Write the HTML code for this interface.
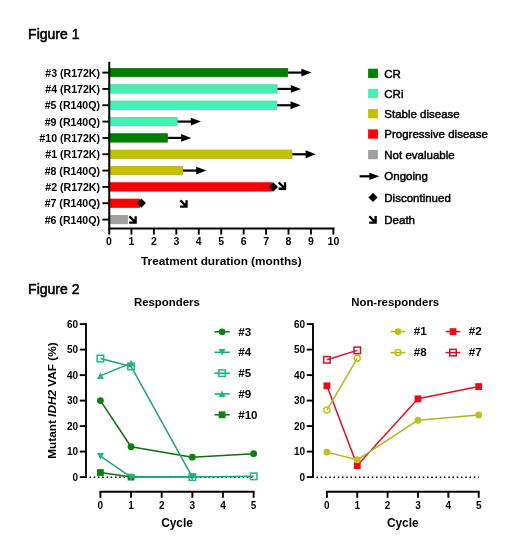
<!DOCTYPE html>
<html><head><meta charset="utf-8"><title>Figures</title>
<style>
html,body{margin:0;padding:0;background:#fff;}
body{width:520px;height:560px;overflow:hidden;font-family:"Liberation Sans",sans-serif;}
svg{display:block;will-change:transform;}
text{font-family:"Liberation Sans",sans-serif;fill:#000;}
</style></head><body>
<svg width="520" height="560" viewBox="0 0 520 560">
<rect width="520" height="560" fill="#fff"/>
<text x="28.1" y="38.7" font-size="14" font-family="Liberation Sans, sans-serif" fill="#000" stroke="#000" stroke-width="0.55">Figure 1</text>
<text x="100" y="76.8" font-size="10.6" font-weight="bold" text-anchor="end" font-family="Liberation Sans, sans-serif">#3 (R172K)</text>
<line x1="102.4" y1="72.6" x2="109" y2="72.6" stroke="#000" stroke-width="1.9"/>
<rect x="109" y="68.4" width="178.75" height="8.4" fill="#008000" stroke="#006A00" stroke-width="0.7"/>
<line x1="288.1" y1="72.6" x2="302.4" y2="72.6" stroke="#000" stroke-width="2.2"/><path d="M301.4 68.7L311.6 72.6L301.4 76.5Z" fill="#000"/>
<text x="100" y="93.13" font-size="10.6" font-weight="bold" text-anchor="end" font-family="Liberation Sans, sans-serif">#4 (R172K)</text>
<line x1="102.4" y1="88.93" x2="109" y2="88.93" stroke="#000" stroke-width="1.9"/>
<rect x="109" y="84.73" width="168.15" height="8.4" fill="#46F0B2" stroke="#38D89E" stroke-width="0.7"/>
<line x1="277.5" y1="88.93" x2="291.8" y2="88.93" stroke="#000" stroke-width="2.2"/><path d="M290.8 85.03L301 88.93L290.8 92.83Z" fill="#000"/>
<text x="100" y="109.46" font-size="10.6" font-weight="bold" text-anchor="end" font-family="Liberation Sans, sans-serif">#5 (R140Q)</text>
<line x1="102.4" y1="105.26" x2="109" y2="105.26" stroke="#000" stroke-width="1.9"/>
<rect x="109" y="101.06" width="167.85" height="8.4" fill="#46F0B2" stroke="#38D89E" stroke-width="0.7"/>
<line x1="277.2" y1="105.26" x2="291.5" y2="105.26" stroke="#000" stroke-width="2.2"/><path d="M290.5 101.36L300.7 105.26L290.5 109.16Z" fill="#000"/>
<text x="100" y="125.79" font-size="10.6" font-weight="bold" text-anchor="end" font-family="Liberation Sans, sans-serif">#9 (R140Q)</text>
<line x1="102.4" y1="121.59" x2="109" y2="121.59" stroke="#000" stroke-width="1.9"/>
<rect x="109" y="117.39" width="68.15" height="8.4" fill="#46F0B2" stroke="#38D89E" stroke-width="0.7"/>
<line x1="177.5" y1="121.59" x2="191.8" y2="121.59" stroke="#000" stroke-width="2.2"/><path d="M190.8 117.69L201 121.59L190.8 125.49Z" fill="#000"/>
<text x="100" y="142.12" font-size="10.6" font-weight="bold" text-anchor="end" font-family="Liberation Sans, sans-serif">#10 (R172K)</text>
<line x1="102.4" y1="137.92" x2="109" y2="137.92" stroke="#000" stroke-width="1.9"/>
<rect x="109" y="133.72" width="58.45" height="8.4" fill="#008000" stroke="#006A00" stroke-width="0.7"/>
<line x1="167.8" y1="137.92" x2="182.1" y2="137.92" stroke="#000" stroke-width="2.2"/><path d="M181.1 134.02L191.3 137.92L181.1 141.82Z" fill="#000"/>
<text x="100" y="158.45" font-size="10.6" font-weight="bold" text-anchor="end" font-family="Liberation Sans, sans-serif">#1 (R172K)</text>
<line x1="102.4" y1="154.25" x2="109" y2="154.25" stroke="#000" stroke-width="1.9"/>
<rect x="109" y="150.05" width="182.95" height="8.4" fill="#C4C000" stroke="#B0AC00" stroke-width="0.7"/>
<line x1="292.3" y1="154.25" x2="306.6" y2="154.25" stroke="#000" stroke-width="2.2"/><path d="M305.6 150.35L315.8 154.25L305.6 158.15Z" fill="#000"/>
<text x="100" y="174.78" font-size="10.6" font-weight="bold" text-anchor="end" font-family="Liberation Sans, sans-serif">#8 (R140Q)</text>
<line x1="102.4" y1="170.58" x2="109" y2="170.58" stroke="#000" stroke-width="1.9"/>
<rect x="109" y="166.38" width="73.55" height="8.4" fill="#C4C000" stroke="#B0AC00" stroke-width="0.7"/>
<line x1="182.9" y1="170.58" x2="197.2" y2="170.58" stroke="#000" stroke-width="2.2"/><path d="M196.2 166.68L206.4 170.58L196.2 174.48Z" fill="#000"/>
<text x="100" y="191.11" font-size="10.6" font-weight="bold" text-anchor="end" font-family="Liberation Sans, sans-serif">#2 (R172K)</text>
<line x1="102.4" y1="186.91" x2="109" y2="186.91" stroke="#000" stroke-width="1.9"/>
<rect x="109" y="182.71" width="163.65" height="8.4" fill="#FF0000" stroke="#E80000" stroke-width="0.7"/>
<path d="M268.8 186.9L273.4 182.3L278 186.9L273.4 191.5Z" fill="#000"/>
<path d="M279.55 183.25L284.45 188.15M285.05 183.45L285.05 188.75L279.75 188.75" fill="none" stroke="#000" stroke-width="2.3" stroke-linecap="square"/>
<text x="100" y="207.44" font-size="10.6" font-weight="bold" text-anchor="end" font-family="Liberation Sans, sans-serif">#7 (R140Q)</text>
<line x1="102.4" y1="203.24" x2="109" y2="203.24" stroke="#000" stroke-width="1.9"/>
<rect x="109" y="199.04" width="30.65" height="8.4" fill="#FF0000" stroke="#E80000" stroke-width="0.7"/>
<path d="M136.7 203.1L141.3 198.5L145.9 203.1L141.3 207.7Z" fill="#000"/>
<path d="M181.05 201.15L185.95 206.05M186.55 201.35L186.55 206.65L181.25 206.65" fill="none" stroke="#000" stroke-width="2.3" stroke-linecap="square"/>
<text x="100" y="223.77" font-size="10.6" font-weight="bold" text-anchor="end" font-family="Liberation Sans, sans-serif">#6 (R140Q)</text>
<line x1="102.4" y1="219.57" x2="109" y2="219.57" stroke="#000" stroke-width="1.9"/>
<rect x="109" y="215.37" width="18.55" height="8.4" fill="#A0A0A2" stroke="#959597" stroke-width="0.7"/>
<path d="M130.15 217.15L135.05 222.05M135.65 217.35L135.65 222.65L130.35 222.65" fill="none" stroke="#000" stroke-width="2.3" stroke-linecap="square"/>
<line x1="109.25" y1="61.8" x2="109.25" y2="234.6" stroke="#000" stroke-width="2"/>
<line x1="108.25" y1="228.5" x2="334.5" y2="228.5" stroke="#000" stroke-width="2.1"/>
<text x="109" y="245" font-size="10.5" font-weight="bold" text-anchor="middle" font-family="Liberation Sans, sans-serif">0</text>
<line x1="131.44" y1="228.5" x2="131.44" y2="234.6" stroke="#000" stroke-width="1.9"/>
<text x="131.44" y="245" font-size="10.5" font-weight="bold" text-anchor="middle" font-family="Liberation Sans, sans-serif">1</text>
<line x1="153.88" y1="228.5" x2="153.88" y2="234.6" stroke="#000" stroke-width="1.9"/>
<text x="153.88" y="245" font-size="10.5" font-weight="bold" text-anchor="middle" font-family="Liberation Sans, sans-serif">2</text>
<line x1="176.32" y1="228.5" x2="176.32" y2="234.6" stroke="#000" stroke-width="1.9"/>
<text x="176.32" y="245" font-size="10.5" font-weight="bold" text-anchor="middle" font-family="Liberation Sans, sans-serif">3</text>
<line x1="198.76" y1="228.5" x2="198.76" y2="234.6" stroke="#000" stroke-width="1.9"/>
<text x="198.76" y="245" font-size="10.5" font-weight="bold" text-anchor="middle" font-family="Liberation Sans, sans-serif">4</text>
<line x1="221.2" y1="228.5" x2="221.2" y2="234.6" stroke="#000" stroke-width="1.9"/>
<text x="221.2" y="245" font-size="10.5" font-weight="bold" text-anchor="middle" font-family="Liberation Sans, sans-serif">5</text>
<line x1="243.64" y1="228.5" x2="243.64" y2="234.6" stroke="#000" stroke-width="1.9"/>
<text x="243.64" y="245" font-size="10.5" font-weight="bold" text-anchor="middle" font-family="Liberation Sans, sans-serif">6</text>
<line x1="266.08" y1="228.5" x2="266.08" y2="234.6" stroke="#000" stroke-width="1.9"/>
<text x="266.08" y="245" font-size="10.5" font-weight="bold" text-anchor="middle" font-family="Liberation Sans, sans-serif">7</text>
<line x1="288.52" y1="228.5" x2="288.52" y2="234.6" stroke="#000" stroke-width="1.9"/>
<text x="288.52" y="245" font-size="10.5" font-weight="bold" text-anchor="middle" font-family="Liberation Sans, sans-serif">8</text>
<line x1="310.96" y1="228.5" x2="310.96" y2="234.6" stroke="#000" stroke-width="1.9"/>
<text x="310.96" y="245" font-size="10.5" font-weight="bold" text-anchor="middle" font-family="Liberation Sans, sans-serif">9</text>
<line x1="333.4" y1="228.5" x2="333.4" y2="234.6" stroke="#000" stroke-width="1.9"/>
<text x="333.4" y="245" font-size="10.5" font-weight="bold" text-anchor="middle" font-family="Liberation Sans, sans-serif">10</text>
<text x="221.3" y="265" font-size="11.8" font-weight="bold" text-anchor="middle" font-family="Liberation Sans, sans-serif">Treatment duration (months)</text>
<rect x="368.1" y="68.75" width="9.8" height="9.3" fill="#008000"/>
<text x="384.3" y="77.6" font-size="11.5" stroke="#000" stroke-width="0.45" font-family="Liberation Sans, sans-serif">CR</text>
<rect x="368.1" y="88.85" width="9.8" height="9.3" fill="#46F0B2"/>
<text x="384.3" y="97.7" font-size="11.5" stroke="#000" stroke-width="0.45" font-family="Liberation Sans, sans-serif">CRi</text>
<rect x="368.1" y="109.05" width="9.8" height="9.3" fill="#C4C000"/>
<text x="384.3" y="117.9" font-size="11.5" stroke="#000" stroke-width="0.45" font-family="Liberation Sans, sans-serif">Stable disease</text>
<rect x="368.1" y="129.35" width="9.8" height="9.3" fill="#FF0000"/>
<text x="384.3" y="138.2" font-size="11.5" stroke="#000" stroke-width="0.45" font-family="Liberation Sans, sans-serif">Progressive disease</text>
<rect x="368.1" y="149.95" width="9.8" height="9.3" fill="#A0A0A2"/>
<text x="384.3" y="158.8" font-size="11.5" stroke="#000" stroke-width="0.45" font-family="Liberation Sans, sans-serif">Not evaluable</text>
<line x1="359.6" y1="176.3" x2="370.4" y2="176.3" stroke="#000" stroke-width="2.2"/><path d="M369.4 172.7L379.4 176.3L369.4 179.9Z" fill="#000"/>
<text x="384.3" y="180" font-size="11.5" stroke="#000" stroke-width="0.45" font-family="Liberation Sans, sans-serif">Ongoing</text>
<path d="M368.4 197.4L373 192.8L377.6 197.4L373 202Z" fill="#000"/>
<text x="384.3" y="202.1" font-size="11.5" stroke="#000" stroke-width="0.45" font-family="Liberation Sans, sans-serif">Discontinued</text>
<path d="M370.15 217.05L375.05 221.95M375.65 217.25L375.65 222.55L370.35 222.55" fill="none" stroke="#000" stroke-width="2.3" stroke-linecap="square"/>
<text x="384.3" y="223.5" font-size="11.5" stroke="#000" stroke-width="0.45" font-family="Liberation Sans, sans-serif">Death</text>
<text x="28.1" y="293.5" font-size="14" font-family="Liberation Sans, sans-serif" fill="#000" stroke="#000" stroke-width="0.55">Figure 2</text>
<text x="166.9" y="306.4" font-size="11.4" font-weight="bold" text-anchor="middle" font-family="Liberation Sans, sans-serif">Responders</text>
<line x1="86" y1="323.15" x2="86" y2="478.05" stroke="#000" stroke-width="1.9"/>
<line x1="79.8" y1="477.1" x2="86" y2="477.1" stroke="#000" stroke-width="1.9"/>
<text x="78.1" y="480.5" font-size="10" font-weight="bold" text-anchor="end" font-family="Liberation Sans, sans-serif">0</text>
<line x1="79.8" y1="451.6" x2="86" y2="451.6" stroke="#000" stroke-width="1.9"/>
<text x="78.1" y="455" font-size="10" font-weight="bold" text-anchor="end" font-family="Liberation Sans, sans-serif">10</text>
<line x1="79.8" y1="426.1" x2="86" y2="426.1" stroke="#000" stroke-width="1.9"/>
<text x="78.1" y="429.5" font-size="10" font-weight="bold" text-anchor="end" font-family="Liberation Sans, sans-serif">20</text>
<line x1="79.8" y1="400.6" x2="86" y2="400.6" stroke="#000" stroke-width="1.9"/>
<text x="78.1" y="404" font-size="10" font-weight="bold" text-anchor="end" font-family="Liberation Sans, sans-serif">30</text>
<line x1="79.8" y1="375.1" x2="86" y2="375.1" stroke="#000" stroke-width="1.9"/>
<text x="78.1" y="378.5" font-size="10" font-weight="bold" text-anchor="end" font-family="Liberation Sans, sans-serif">40</text>
<line x1="79.8" y1="349.6" x2="86" y2="349.6" stroke="#000" stroke-width="1.9"/>
<text x="78.1" y="353" font-size="10" font-weight="bold" text-anchor="end" font-family="Liberation Sans, sans-serif">50</text>
<line x1="79.8" y1="324.1" x2="86" y2="324.1" stroke="#000" stroke-width="1.9"/>
<text x="78.1" y="327.5" font-size="10" font-weight="bold" text-anchor="end" font-family="Liberation Sans, sans-serif">60</text>
<line x1="89.5" y1="477.3" x2="253.65" y2="477.3" stroke="#000" stroke-width="1.4" stroke-dasharray="1.5 2.75"/>
<line x1="99.45" y1="491.8" x2="254.6" y2="491.8" stroke="#000" stroke-width="1.9"/>
<line x1="100.4" y1="491.8" x2="100.4" y2="497.8" stroke="#000" stroke-width="1.9"/>
<text x="100.4" y="509.3" font-size="10" font-weight="bold" text-anchor="middle" font-family="Liberation Sans, sans-serif">0</text>
<line x1="131.05" y1="491.8" x2="131.05" y2="497.8" stroke="#000" stroke-width="1.9"/>
<text x="131.05" y="509.3" font-size="10" font-weight="bold" text-anchor="middle" font-family="Liberation Sans, sans-serif">1</text>
<line x1="161.7" y1="491.8" x2="161.7" y2="497.8" stroke="#000" stroke-width="1.9"/>
<text x="161.7" y="509.3" font-size="10" font-weight="bold" text-anchor="middle" font-family="Liberation Sans, sans-serif">2</text>
<line x1="192.35" y1="491.8" x2="192.35" y2="497.8" stroke="#000" stroke-width="1.9"/>
<text x="192.35" y="509.3" font-size="10" font-weight="bold" text-anchor="middle" font-family="Liberation Sans, sans-serif">3</text>
<line x1="223" y1="491.8" x2="223" y2="497.8" stroke="#000" stroke-width="1.9"/>
<text x="223" y="509.3" font-size="10" font-weight="bold" text-anchor="middle" font-family="Liberation Sans, sans-serif">4</text>
<line x1="253.65" y1="491.8" x2="253.65" y2="497.8" stroke="#000" stroke-width="1.9"/>
<text x="253.65" y="509.3" font-size="10" font-weight="bold" text-anchor="middle" font-family="Liberation Sans, sans-serif">5</text>
<text x="177.03" y="527.2" font-size="11.9" font-weight="bold" text-anchor="middle" font-family="Liberation Sans, sans-serif">Cycle</text>
<text x="395.2" y="306.4" font-size="11.4" font-weight="bold" text-anchor="middle" font-family="Liberation Sans, sans-serif">Non-responders</text>
<line x1="313" y1="323.15" x2="313" y2="478.05" stroke="#000" stroke-width="1.9"/>
<line x1="306.8" y1="477.1" x2="313" y2="477.1" stroke="#000" stroke-width="1.9"/>
<text x="305.1" y="480.5" font-size="10" font-weight="bold" text-anchor="end" font-family="Liberation Sans, sans-serif">0</text>
<line x1="306.8" y1="451.6" x2="313" y2="451.6" stroke="#000" stroke-width="1.9"/>
<text x="305.1" y="455" font-size="10" font-weight="bold" text-anchor="end" font-family="Liberation Sans, sans-serif">10</text>
<line x1="306.8" y1="426.1" x2="313" y2="426.1" stroke="#000" stroke-width="1.9"/>
<text x="305.1" y="429.5" font-size="10" font-weight="bold" text-anchor="end" font-family="Liberation Sans, sans-serif">20</text>
<line x1="306.8" y1="400.6" x2="313" y2="400.6" stroke="#000" stroke-width="1.9"/>
<text x="305.1" y="404" font-size="10" font-weight="bold" text-anchor="end" font-family="Liberation Sans, sans-serif">30</text>
<line x1="306.8" y1="375.1" x2="313" y2="375.1" stroke="#000" stroke-width="1.9"/>
<text x="305.1" y="378.5" font-size="10" font-weight="bold" text-anchor="end" font-family="Liberation Sans, sans-serif">40</text>
<line x1="306.8" y1="349.6" x2="313" y2="349.6" stroke="#000" stroke-width="1.9"/>
<text x="305.1" y="353" font-size="10" font-weight="bold" text-anchor="end" font-family="Liberation Sans, sans-serif">50</text>
<line x1="306.8" y1="324.1" x2="313" y2="324.1" stroke="#000" stroke-width="1.9"/>
<text x="305.1" y="327.5" font-size="10" font-weight="bold" text-anchor="end" font-family="Liberation Sans, sans-serif">60</text>
<line x1="316.5" y1="477.3" x2="478.7" y2="477.3" stroke="#000" stroke-width="1.4" stroke-dasharray="1.5 2.75"/>
<line x1="325.95" y1="491.8" x2="479.65" y2="491.8" stroke="#000" stroke-width="1.9"/>
<line x1="326.9" y1="491.8" x2="326.9" y2="497.8" stroke="#000" stroke-width="1.9"/>
<text x="326.9" y="509.3" font-size="10" font-weight="bold" text-anchor="middle" font-family="Liberation Sans, sans-serif">0</text>
<line x1="357.26" y1="491.8" x2="357.26" y2="497.8" stroke="#000" stroke-width="1.9"/>
<text x="357.26" y="509.3" font-size="10" font-weight="bold" text-anchor="middle" font-family="Liberation Sans, sans-serif">1</text>
<line x1="387.62" y1="491.8" x2="387.62" y2="497.8" stroke="#000" stroke-width="1.9"/>
<text x="387.62" y="509.3" font-size="10" font-weight="bold" text-anchor="middle" font-family="Liberation Sans, sans-serif">2</text>
<line x1="417.98" y1="491.8" x2="417.98" y2="497.8" stroke="#000" stroke-width="1.9"/>
<text x="417.98" y="509.3" font-size="10" font-weight="bold" text-anchor="middle" font-family="Liberation Sans, sans-serif">3</text>
<line x1="448.34" y1="491.8" x2="448.34" y2="497.8" stroke="#000" stroke-width="1.9"/>
<text x="448.34" y="509.3" font-size="10" font-weight="bold" text-anchor="middle" font-family="Liberation Sans, sans-serif">4</text>
<line x1="478.7" y1="491.8" x2="478.7" y2="497.8" stroke="#000" stroke-width="1.9"/>
<text x="478.7" y="509.3" font-size="10" font-weight="bold" text-anchor="middle" font-family="Liberation Sans, sans-serif">5</text>
<text x="402.8" y="527.2" font-size="11.9" font-weight="bold" text-anchor="middle" font-family="Liberation Sans, sans-serif">Cycle</text>
<text transform="translate(56 400.6) rotate(-90)" x="0" y="0" font-size="11.8" font-weight="bold" text-anchor="middle" font-family="Liberation Sans, sans-serif">Mutant <tspan font-style="italic">IDH2</tspan> VAF (%)</text>
<path d="M100.4 472.51L131.05 477.1" fill="none" stroke="#0E6E14" stroke-width="1.5" stroke-linejoin="round"/>
<rect x="97" y="469.11" width="6.8" height="6.8" fill="#0A820A"/>
<rect x="127.65" y="473.7" width="6.8" height="6.8" fill="#0A820A"/>
<path d="M100.4 456.19L131.05 477.1L192.35 477.1" fill="none" stroke="#1CA472" stroke-width="1.5" stroke-linejoin="round"/>
<path d="M96.9 452.99L103.9 452.99L100.4 459.49Z" fill="#1DB97E"/>
<path d="M127.55 473.9L134.55 473.9L131.05 480.4Z" fill="#1DB97E"/>
<path d="M188.85 473.9L195.85 473.9L192.35 480.4Z" fill="#1DB97E"/>
<line x1="131.05" y1="477.1" x2="192.35" y2="477.1" stroke="#1CA472" stroke-width="1.5"/>
<path d="M100.4 400.6L131.05 446.75L192.35 457.21L253.65 453.64" fill="none" stroke="#0E6E14" stroke-width="1.5" stroke-linejoin="round"/>
<circle cx="100.4" cy="400.6" r="3.4" fill="#0A820A"/>
<circle cx="131.05" cy="446.75" r="3.4" fill="#0A820A"/>
<circle cx="192.35" cy="457.21" r="3.4" fill="#0A820A"/>
<circle cx="253.65" cy="453.64" r="3.4" fill="#0A820A"/>
<path d="M100.4 375.87L131.05 363.12" fill="none" stroke="#1CA472" stroke-width="1.5" stroke-linejoin="round"/>
<path d="M96.9 379.06L103.9 379.06L100.4 372.56Z" fill="#1DB97E"/>
<path d="M127.55 366.31L134.55 366.31L131.05 359.81Z" fill="#1DB97E"/>
<path d="M100.4 358.53L131.05 366.43L192.35 477.1L253.65 476.34" fill="none" stroke="#1CA472" stroke-width="1.5" stroke-linejoin="round"/>
<rect x="97.15" y="355.28" width="6.5" height="6.5" fill="none" stroke="#1DB97E" stroke-width="1.5"/>
<rect x="127.8" y="363.18" width="6.5" height="6.5" fill="none" stroke="#1DB97E" stroke-width="1.5"/>
<rect x="189.1" y="473.85" width="6.5" height="6.5" fill="none" stroke="#1DB97E" stroke-width="1.5"/>
<rect x="250.4" y="473.09" width="6.5" height="6.5" fill="none" stroke="#1DB97E" stroke-width="1.5"/>
<path d="M326.9 385.81L357.26 465.62L417.98 398.82L478.7 386.58" fill="none" stroke="#DA1228" stroke-width="1.5" stroke-linejoin="round"/>
<rect x="323.5" y="382.41" width="6.8" height="6.8" fill="#EC0A14"/>
<rect x="353.86" y="462.23" width="6.8" height="6.8" fill="#EC0A14"/>
<rect x="414.58" y="395.42" width="6.8" height="6.8" fill="#EC0A14"/>
<rect x="475.3" y="383.18" width="6.8" height="6.8" fill="#EC0A14"/>
<path d="M326.9 452.11L357.26 459.76L417.98 420.24L478.7 414.88" fill="none" stroke="#B0B61E" stroke-width="1.5" stroke-linejoin="round"/>
<circle cx="326.9" cy="452.11" r="3.4" fill="#BEC214"/>
<circle cx="357.26" cy="459.76" r="3.4" fill="#BEC214"/>
<circle cx="417.98" cy="420.24" r="3.4" fill="#BEC214"/>
<circle cx="478.7" cy="414.88" r="3.4" fill="#BEC214"/>
<path d="M326.9 410.04L357.26 358.27" fill="none" stroke="#B0B61E" stroke-width="1.5" stroke-linejoin="round"/>
<circle cx="326.9" cy="410.04" r="3" fill="none" stroke="#BEC214" stroke-width="1.5"/>
<circle cx="357.26" cy="358.27" r="3" fill="none" stroke="#BEC214" stroke-width="1.5"/>
<path d="M326.9 359.8L357.26 350.37" fill="none" stroke="#D8122C" stroke-width="1.5" stroke-linejoin="round"/>
<rect x="323.65" y="356.55" width="6.5" height="6.5" fill="none" stroke="#D41028" stroke-width="1.5"/>
<rect x="354.01" y="347.12" width="6.5" height="6.5" fill="none" stroke="#D41028" stroke-width="1.5"/>
<line x1="214.4" y1="331.8" x2="229.8" y2="331.8" stroke="#0E6E14" stroke-width="1.5"/>
<circle cx="222.1" cy="331.8" r="3.4" fill="#0A820A"/>
<text x="238.2" y="335.5" font-size="11.6" font-weight="bold" font-family="Liberation Sans, sans-serif">#3</text>
<line x1="214.4" y1="352.3" x2="229.8" y2="352.3" stroke="#1CA472" stroke-width="1.5"/>
<path d="M218.6 349.1L225.6 349.1L222.1 355.6Z" fill="#1DB97E"/>
<text x="238.2" y="356" font-size="11.6" font-weight="bold" font-family="Liberation Sans, sans-serif">#4</text>
<line x1="214.4" y1="373.2" x2="229.8" y2="373.2" stroke="#1CA472" stroke-width="1.5"/>
<rect x="218.85" y="369.95" width="6.5" height="6.5" fill="none" stroke="#1DB97E" stroke-width="1.5"/>
<text x="238.2" y="376.9" font-size="11.6" font-weight="bold" font-family="Liberation Sans, sans-serif">#5</text>
<line x1="214.4" y1="393.9" x2="229.8" y2="393.9" stroke="#1CA472" stroke-width="1.5"/>
<path d="M218.6 397.1L225.6 397.1L222.1 390.6Z" fill="#1DB97E"/>
<text x="238.2" y="397.6" font-size="11.6" font-weight="bold" font-family="Liberation Sans, sans-serif">#9</text>
<line x1="214.4" y1="414.8" x2="229.8" y2="414.8" stroke="#0E6E14" stroke-width="1.5"/>
<rect x="218.7" y="411.4" width="6.8" height="6.8" fill="#0A820A"/>
<text x="238.2" y="418.5" font-size="11.6" font-weight="bold" font-family="Liberation Sans, sans-serif">#10</text>
<line x1="390.6" y1="331.6" x2="405.4" y2="331.6" stroke="#B0B61E" stroke-width="1.5"/>
<circle cx="398" cy="331.6" r="3.4" fill="#BEC214"/>
<text x="413.8" y="335.3" font-size="11.6" font-weight="bold" font-family="Liberation Sans, sans-serif">#1</text>
<line x1="390.6" y1="352.6" x2="405.4" y2="352.6" stroke="#B0B61E" stroke-width="1.5"/>
<circle cx="398" cy="352.6" r="3" fill="none" stroke="#BEC214" stroke-width="1.5"/>
<text x="413.8" y="356.3" font-size="11.6" font-weight="bold" font-family="Liberation Sans, sans-serif">#8</text>
<line x1="445.6" y1="331.6" x2="460.4" y2="331.6" stroke="#DA1228" stroke-width="1.5"/>
<rect x="449.6" y="328.2" width="6.8" height="6.8" fill="#EC0A14"/>
<text x="468.8" y="335.3" font-size="11.6" font-weight="bold" font-family="Liberation Sans, sans-serif">#2</text>
<line x1="445.6" y1="352.6" x2="460.4" y2="352.6" stroke="#D8122C" stroke-width="1.5"/>
<rect x="449.75" y="349.35" width="6.5" height="6.5" fill="none" stroke="#D41028" stroke-width="1.5"/>
<text x="468.8" y="356.3" font-size="11.6" font-weight="bold" font-family="Liberation Sans, sans-serif">#7</text>
</svg>
</body></html>
